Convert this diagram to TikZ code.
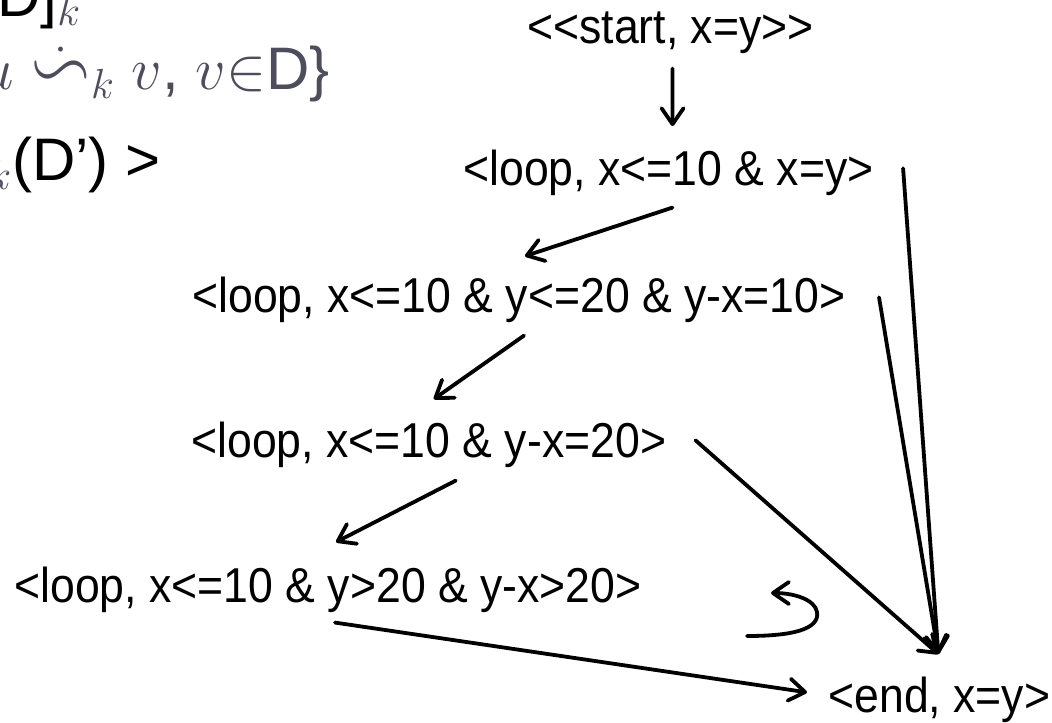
\RequirePackage{fix-cm}
\documentclass[tikz,border=0pt]{standalone}
\usepackage{graphicx}
\usepackage{amssymb}
\usepackage{fontspec}
\setmainfont[FakeStretch=0.91]{Liberation Sans}
\newfontfamily\slidefont{Liberation Sans}
\usetikzlibrary{calc, positioning}
\usetikzlibrary{arrows.meta}
\definecolor{slidegrey}{RGB}{77,77,92}

\begin{document}
\begin{tikzpicture}[x=0.5pt, y=-0.5pt,
  state/.style={anchor=base west, inner sep=0pt, font=\fontsize{24.5}{29}\selectfont},
  frag/.style={anchor=base west, inner sep=0pt, font=\slidefont\fontsize{30}{36}\selectfont},
  flow/.style={line width=1.9pt, line cap=round,
    -{Straight Barb[length=8pt, width=11pt, round]}}]
\useasboundingbox (0,0) rectangle (1052,722);

% Leftover lines of the slide
\node[frag] (rowa) at (-3,17) {D]\textcolor{slidegrey}{$_k$}};
\node[frag, text=slidegrey] (rowb) at (-20,90)
  {$u\mathrel{\dot{\scalebox{1.3}{$\backsim$}}_{k}}v$, $v{\in}$D\}};
\node[frag] (rowc) at (-12,180) {\textcolor{slidegrey}{$_k$}(D’) >};

% States
\node[state] (start) at (527,44) {<{}<start, x=y>{}>};
\node[state] (loop1) at (463,185) {<loop, x<=10 \& x=y>};
\node[state] (loop2) at (192,312) {<loop, x<=10 \& y<=20 \& y-x=10>};
\node[state] (loop3) at (191,457) {<loop, x<=10 \& y-x=20>};
\node[state] (loop4) at (14,602) {<loop, x<=10 \& y>20 \& y-x>20>};
\node[state] (final) at (828,712) {<end, x=y>};
\coordinate (hub) at ($(final.north)+(-1,-22)$);

% Steps down the loop
\draw[flow] ($(start.south)+(2,14)$) -- ($(loop1.north)+(4,-23)$);
\draw[flow] ($(loop1.south)+(4,12)$) -- ($(loop2.north)+(6,-20)$);
\draw[flow] ($(loop2.south)+(5,13)$) -- ($(loop3.north)+(5,-22)$);
\draw[flow] ($(loop3.south)+(27,13)$) -- ($(loop4.north)+(8,-24)$);
\draw[flow] ($(loop4.south)+(7,10)$) -- ($(final.west)+(-21,-7)$);

% Exits
\foreach \src/\dx/\dy in {loop1/29/-4, loop2/33/-2, loop3/29/-4}
  \draw[flow] ($(\src.east)+(\dx,\dy)$) -- (hub);

% Back edge
\draw[flow] (747,636) .. controls (790,636) and (820,630) .. (817,612)
  .. controls (815,600) and (795,593) .. (771,593);
\end{tikzpicture}
\end{document}
